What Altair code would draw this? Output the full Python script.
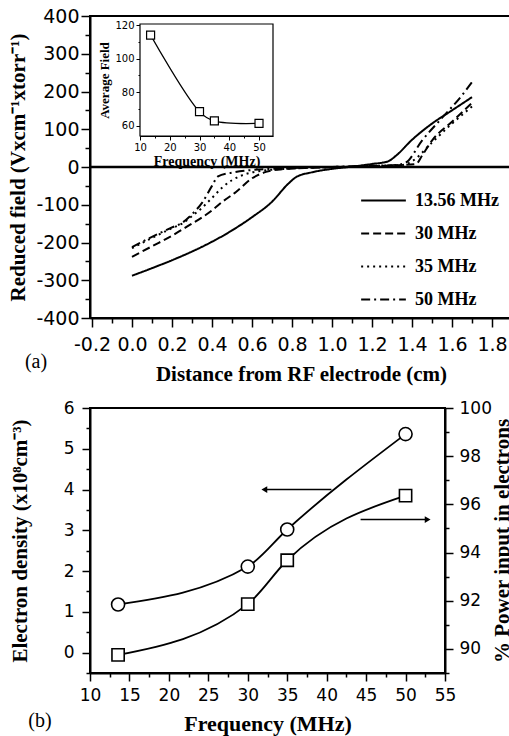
import altair as alt
import pandas as pd

# ---------------- panel (a): reduced field vs distance ----------------
series = ["13.56 MHz", "30 MHz", "35 MHz", "50 MHz"]
dash_patterns = [[1, 0], [8, 4], [2, 4], [9, 4, 2, 4]]

dist_1356 = [0, 0.1, 0.2, 0.3, 0.4, 0.5, 0.6, 0.7, 0.78, 0.82, 0.9, 1.0, 1.1, 1.2, 1.28, 1.32, 1.4, 1.5, 1.6, 1.7]
field_1356 = [-288, -268, -247, -224, -198, -168, -133, -92, -45, -27, -14, -5, 1, 8, 15, 30, 72, 115, 150, 185]

dist_30 = [0, 0.1, 0.2, 0.25, 0.3, 0.4, 0.45, 0.52, 0.6, 0.67, 0.75, 0.9, 1.1, 1.3, 1.42, 1.45, 1.5, 1.6, 1.7]
field_30 = [-238, -210, -182, -166, -150, -115, -93, -66, -30, -13, -6, -2, 1, 4, 8, 30, 70, 120, 170]

dist_35 = [0, 0.1, 0.2, 0.25, 0.3, 0.35, 0.4, 0.45, 0.5, 0.55, 0.65, 0.8, 1.0, 1.2, 1.35, 1.4, 1.5, 1.6, 1.7]
field_35 = [-215, -188, -162, -150, -130, -108, -82, -55, -35, -22, -10, -4, 0, 3, 5, 15, 65, 115, 160]

dist_50 = [0, 0.1, 0.2, 0.25, 0.3, 0.35, 0.4, 0.43, 0.5, 0.6, 0.8, 1.0, 1.2, 1.33, 1.37, 1.45, 1.55, 1.65, 1.7]
field_50 = [-212, -185, -160, -148, -125, -95, -50, -25, -15, -8, -3, 0, 3, 6, 12, 70, 130, 190, 225]

# inset: average field vs frequency
inset_freq = [13.56, 30, 35, 50]
inset_field = [114, 68.5, 63, 61.5]

# ---------------- panel (b): density and power vs frequency ----------------
freq_b = [13.56, 30, 35, 50]
density = [1.18, 2.11, 3.02, 5.36]
power = [89.75, 91.86, 93.68, 96.36]

arrow_left = {"from": 40.6, "to": 32.1, "level": 4.0}     # on density axis
arrow_right = {"from": 44.3, "to": 52.8, "level": 95.37}  # on power axis

panel_labels = ["(a)", "(b)"]

TICK_FONT = "DejaVu Sans"
TITLE_FONT = "Liberation Serif"
MINUS = "\u2212"

# ---------------- build tables ----------------
rows = []
for name, xs, ys in zip(series, [dist_1356, dist_30, dist_35, dist_50],
                        [field_1356, field_30, field_35, field_50]):
    for a, b in zip(xs, ys):
        rows.append({"x": a, "y": b, "series": name})
df_a = pd.DataFrame(rows)
df_zero = pd.DataFrame({"y": [0]})
df_inset = pd.DataFrame({"f": inset_freq, "v": inset_field})

# ---------------- panel (a) encodings ----------------
xa_vals = [round(-0.2 + 0.1 * i, 1) for i in range(22)]
xa_major = "abs(round(datum.value*10)) % 2 == 0"
x_a = alt.X(
    "x:Q",
    scale=alt.Scale(domain=[-0.21, 1.9], nice=False, zero=False),
    axis=alt.Axis(
        values=xa_vals,
        labelExpr=f"{xa_major} ? replace(format(datum.value, '.1f'), '{MINUS}', '-') : ''",
        tickSize={"condition": {"test": xa_major, "value": 9}, "value": 5},
        labelFontSize=19, labelPadding=8, labelFlush=False,
        titleFontSize=21, titlePadding=9,
        title="Distance from RF electrode (cm)",
    ),
)
ya_vals = list(range(-400, 401, 50))
ya_major = "datum.value % 100 == 0"
y_a = alt.Y(
    "y:Q",
    scale=alt.Scale(domain=[-400, 400], nice=False),
    axis=alt.Axis(
        values=ya_vals,
        labelExpr=f"{ya_major} ? replace(format(datum.value, 'd'), '{MINUS}', '-') : ''",
        tickSize={"condition": {"test": ya_major, "value": 9}, "value": 5},
        labelFontSize=19, labelPadding=2,
        titleFontSize=21, titlePadding=7,
        title="Reduced field (Vxcm\u207b\u00b9xtorr\u207b\u00b9)",
    ),
)

zero_rule = alt.Chart(df_zero).mark_rule(color="black", strokeWidth=2.5).encode(y=y_a)

lines_a = alt.Chart(df_a).mark_line(color="black", strokeWidth=2, interpolate="monotone").encode(
    x=x_a,
    y=y_a,
    strokeDash=alt.StrokeDash(
        "series:N",
        scale=alt.Scale(domain=series, range=dash_patterns),
        legend=alt.Legend(
            orient="none", legendX=270, legendY=161, title=None,
            symbolType="stroke", symbolSize=2000, symbolStrokeWidth=2,
            symbolStrokeColor="black",
            labelFont=TITLE_FONT, labelFontWeight="bold", labelFontSize=18,
            labelColor="black", labelOffset=8, rowPadding=-3.5,
        ),
    ),
)

label_a = alt.Chart(pd.DataFrame({"t": [panel_labels[0]]})).mark_text(
    font=TITLE_FONT, fontSize=20, color="black", align="center", baseline="middle"
).encode(text="t:N", x=alt.value(-54), y=alt.value(346))

main_a = alt.layer(zero_rule, lines_a, label_a)

# inset encodings (own scales placed inside the plot)
x_in = alt.X(
    "f:Q",
    scale=alt.Scale(domain=[10, 54.7], range=[50, 183], nice=False, zero=False),
    axis=alt.Axis(
        orient="bottom", offset=-182,
        values=[10, 15, 20, 25, 30, 35, 40, 45, 50],
        labelExpr="datum.value % 10 == 0 ? datum.label : ''",
        tickSize={"condition": {"test": "datum.value % 10 == 0", "value": 4}, "value": 2},
        labelFontSize=10, labelPadding=2, labelFlush=False,
        domainWidth=1, tickWidth=1,
        titleFontSize=14, titlePadding=2, title="Frequency (MHz)",
    ),
)
y_in = alt.Y(
    "v:Q",
    scale=alt.Scale(domain=[54, 120.6], range=[120, 8], nice=False, zero=False),
    axis=alt.Axis(
        orient="left", offset=-50,
        values=[60, 70, 80, 90, 100, 110, 120],
        labelExpr="datum.value % 20 == 0 ? datum.label : ''",
        tickSize={"condition": {"test": "datum.value % 20 == 0", "value": 4}, "value": 2},
        labelFontSize=10, labelPadding=2,
        domainWidth=1, tickWidth=1,
        titleFontSize=13, titlePadding=3, title="Average Field",
    ),
)
df_frame = pd.DataFrame({"f": [10], "f2": [54.7], "v": [54], "v2": [120.6]})
inset_frame = alt.Chart(df_frame).mark_rect(fill="white", stroke="black", strokeWidth=1.2).encode(
    x=x_in, x2="f2", y=y_in, y2="v2"
)
inset_line = alt.Chart(df_inset).mark_line(color="black", strokeWidth=1.2, interpolate="catmull-rom").encode(
    x=x_in, y=y_in
)
inset_pts = alt.Chart(df_inset).mark_point(
    shape="square", size=64, filled=True, fill="white", stroke="black", strokeWidth=1.2, opacity=1
).encode(x=x_in, y=y_in)
inset = alt.layer(inset_frame, inset_line, inset_pts)

top = alt.layer(main_a, inset).resolve_scale(x="independent", y="independent").properties(
    width=422, height=302
)

# ---------------- panel (b) ----------------
df_b = pd.DataFrame({"freq": freq_b, "d": density, "p": power})

xb_vals = [10 + 2.5 * i for i in range(19)]
x_b = alt.X(
    "freq:Q",
    scale=alt.Scale(domain=[10, 55], nice=False, zero=False),
    axis=alt.Axis(
        values=xb_vals,
        labelExpr="datum.value % 5 == 0 ? datum.label : ''",
        tickSize={"condition": {"test": "datum.value % 5 == 0", "value": 8}, "value": 4},
        labelFontSize=17, labelPadding=6, labelFlush=False,
        titleFontSize=22, titlePadding=10, title="Frequency (MHz)",
    ),
)
y_d = alt.Y(
    "d:Q",
    scale=alt.Scale(domain=[-0.5, 6], nice=False, zero=False),
    axis=alt.Axis(
        orient="left",
        values=[-0.5 + 0.5 * i for i in range(14)],
        labelExpr="datum.value % 1 == 0 ? format(datum.value, 'd') : ''",
        tickSize={"condition": {"test": "datum.value % 1 == 0", "value": 8}, "value": 4},
        labelFontSize=17, labelPadding=8,
        titleFontSize=21, titlePadding=33,
        title="Electron density (x10\u2078cm\u207b\u00b3)",
    ),
)
y_p = alt.Y(
    "p:Q",
    scale=alt.Scale(domain=[89, 100], nice=False, zero=False),
    axis=alt.Axis(
        orient="right",
        values=list(range(89, 101)),
        labelExpr="datum.value % 2 == 0 ? datum.label : ''",
        tickSize={"condition": {"test": "datum.value % 2 == 0", "value": 8}, "value": 4},
        labelFontSize=17, labelPadding=6,
        titleFontSize=21, titlePadding=21, titleAngle=270,
        title="% Power input in electrons",
    ),
)

dens_line = alt.Chart(df_b).mark_line(color="black", strokeWidth=1.8, interpolate="monotone").encode(x=x_b, y=y_d)
dens_pts = alt.Chart(df_b).mark_point(
    shape="circle", size=170, filled=True, fill="white", stroke="black", strokeWidth=1.6, opacity=1
).encode(x=x_b, y=y_d)
df_al = pd.DataFrame({"freq": [arrow_left["from"]], "freq2": [arrow_left["to"]], "d": [arrow_left["level"]]})
df_alh = pd.DataFrame({"freq": [arrow_left["to"]], "d": [arrow_left["level"]]})
arrowL = alt.Chart(df_al).mark_rule(color="black", strokeWidth=1.5).encode(x=x_b, x2="freq2", y=y_d)
arrowL_head = alt.Chart(df_alh).mark_point(
    shape="triangle-left", size=45, filled=True, color="black", opacity=1
).encode(x=x_b, y=y_d)
dens_layer = alt.layer(dens_line, dens_pts, arrowL, arrowL_head)

pow_line = alt.Chart(df_b).mark_line(color="black", strokeWidth=1.8, interpolate="monotone").encode(x=x_b, y=y_p)
pow_pts = alt.Chart(df_b).mark_point(
    shape="square", size=150, filled=True, fill="white", stroke="black", strokeWidth=1.6, opacity=1
).encode(x=x_b, y=y_p)
df_ar = pd.DataFrame({"freq": [arrow_right["from"]], "freq2": [arrow_right["to"]], "p": [arrow_right["level"]]})
df_arh = pd.DataFrame({"freq": [arrow_right["to"]], "p": [arrow_right["level"]]})
arrowR = alt.Chart(df_ar).mark_rule(color="black", strokeWidth=1.5).encode(x=x_b, x2="freq2", y=y_p)
arrowR_head = alt.Chart(df_arh).mark_point(
    shape="triangle-right", size=45, filled=True, color="black", opacity=1
).encode(x=x_b, y=y_p)
label_b = alt.Chart(pd.DataFrame({"t": [panel_labels[1]]})).mark_text(
    font=TITLE_FONT, fontSize=20, color="black", align="center", baseline="middle"
).encode(text="t:N", x=alt.value(-50), y=alt.value(313))
pow_layer = alt.layer(pow_line, pow_pts, arrowR, arrowR_head, label_b)

bottom = alt.layer(dens_layer, pow_layer).resolve_scale(y="independent").properties(width=355, height=265)

# fixed 509 x 736 canvas: content past the right edge is cut off as in the original
chart = alt.concat(top, bottom, columns=1, spacing=13, align="none").properties(
    autosize=alt.AutoSizeParams(type="none"),
    padding={"top": 16, "left": 90, "right": 419, "bottom": 720},
    background="white",
).configure_view(
    stroke="black", strokeWidth=2
).configure_axis(
    grid=False,
    domainColor="black", domainWidth=2,
    tickColor="black", tickWidth=1.5,
    labelColor="black", labelFont=TICK_FONT,
    titleColor="black", titleFont=TITLE_FONT, titleFontWeight="bold",
)

chart.save("out.html", embed_options={"renderer": "svg", "actions": False})
